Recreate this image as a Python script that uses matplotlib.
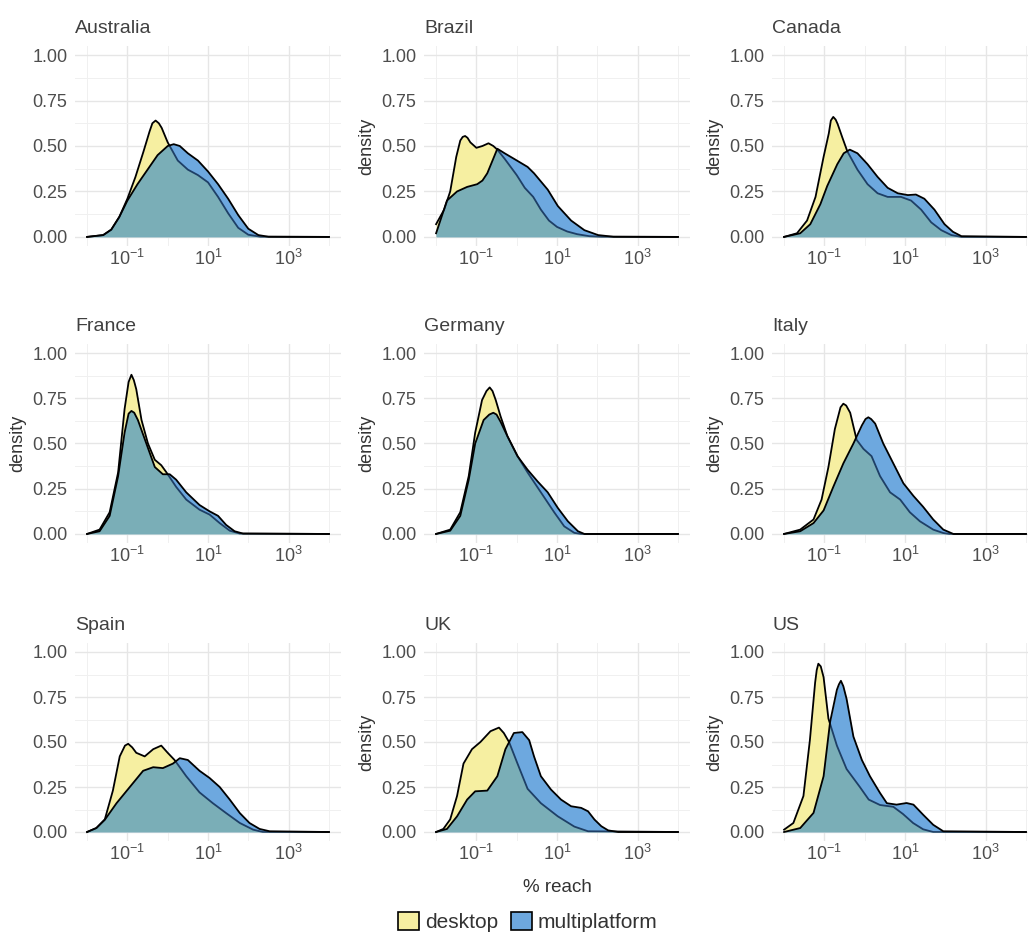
"""
Density of % reach, desktop vs multiplatform, one panel per country.
Output: out.png
"""
import numpy as np
import matplotlib
matplotlib.use("Agg")
import matplotlib.pyplot as plt
from matplotlib.patches import Patch
from matplotlib.ticker import FixedLocator, NullFormatter

plt.rcParams["font.family"] = ["Liberation Sans", "DejaVu Sans"]
plt.rcParams["mathtext.fontset"] = "custom"
plt.rcParams["mathtext.rm"] = "Liberation Sans"
plt.rcParams["mathtext.it"] = "Liberation Sans:italic"

# curves: x is log10(% reach), y is density
australia_desktop_x = [-2, -1.6, -1.4, -1.2, -1.0, -0.8, -0.6, -0.45, -0.38, -0.3, -0.22, -0.15, 0, 0.25, 0.5, 0.75, 1.0, 1.25, 1.5, 1.75, 2.0, 2.3, 4]
australia_desktop_y = [0, 0.01, 0.04, 0.11, 0.21, 0.33, 0.47, 0.58, 0.625, 0.64, 0.625, 0.6, 0.52, 0.42, 0.37, 0.34, 0.3, 0.22, 0.13, 0.05, 0.012, 0.001, 0]
australia_multi_x = [-2, -1.6, -1.4, -1.2, -1.0, -0.75, -0.5, -0.25, 0, 0.15, 0.3, 0.5, 0.75, 1, 1.25, 1.5, 1.75, 2, 2.25, 2.5, 4]
australia_multi_y = [0, 0.01, 0.04, 0.11, 0.2, 0.29, 0.37, 0.45, 0.5, 0.51, 0.5, 0.46, 0.42, 0.36, 0.29, 0.21, 0.12, 0.045, 0.01, 0.001, 0]

brazil_desktop_x = [-2, -1.8, -1.65, -1.5, -1.4, -1.34, -1.28, -1.22, -1.15, -1.0, -0.85, -0.7, -0.58, -0.48, -0.3, 0, 0.2, 0.41, 0.6, 0.8, 1.0, 1.25, 1.5, 1.8, 2.1, 4]
brazil_desktop_y = [0.07, 0.15, 0.25, 0.44, 0.53, 0.55, 0.555, 0.545, 0.52, 0.49, 0.5, 0.515, 0.5, 0.48, 0.43, 0.34, 0.27, 0.22, 0.15, 0.09, 0.055, 0.03, 0.015, 0.004, 0.001, 0]
brazil_multi_x = [-2, -1.85, -1.73, -1.48, -1.23, -0.98, -0.85, -0.73, -0.6, -0.48, -0.3, -0.07, 0.27, 0.43, 0.77, 1.02, 1.35, 1.68, 2.02, 2.4, 4]
brazil_multi_y = [0.02, 0.12, 0.2, 0.25, 0.275, 0.29, 0.31, 0.35, 0.42, 0.485, 0.46, 0.43, 0.385, 0.35, 0.26, 0.17, 0.09, 0.037, 0.01, 0.001, 0]

canada_desktop_x = [-2, -1.68, -1.43, -1.22, -1.02, -0.89, -0.84, -0.78, -0.72, -0.67, -0.56, -0.43, -0.18, 0.07, 0.32, 0.57, 0.9, 1.15, 1.4, 1.65, 1.9, 2.15, 2.4, 4]
canada_desktop_y = [0, 0.02, 0.09, 0.22, 0.44, 0.57, 0.64, 0.66, 0.645, 0.62, 0.55, 0.47, 0.37, 0.29, 0.24, 0.22, 0.22, 0.2, 0.15, 0.08, 0.037, 0.01, 0, 0]
canada_multi_x = [-2, -1.6, -1.35, -1.1, -0.93, -0.68, -0.52, -0.37, -0.18, 0.07, 0.32, 0.57, 0.82, 1.07, 1.27, 1.48, 1.73, 1.98, 2.19, 2.4, 4]
canada_multi_y = [0, 0.02, 0.07, 0.18, 0.28, 0.4, 0.46, 0.48, 0.46, 0.4, 0.33, 0.27, 0.24, 0.23, 0.233, 0.21, 0.15, 0.07, 0.028, 0.004, 0]

france_desktop_x = [-2, -1.69, -1.44, -1.23, -1.07, -0.97, -0.9, -0.84, -0.78, -0.65, -0.49, -0.32, -0.16, -0.03, 0.21, 0.46, 0.79, 1.04, 1.29, 1.54, 1.79, 4]
france_desktop_y = [0, 0.024, 0.12, 0.34, 0.69, 0.84, 0.88, 0.85, 0.8, 0.63, 0.5, 0.41, 0.38, 0.34, 0.26, 0.19, 0.134, 0.107, 0.06, 0.018, 0.002, 0]
france_multi_x = [-2, -1.69, -1.44, -1.23, -1.07, -0.97, -0.9, -0.83, -0.74, -0.53, -0.32, -0.12, 0.05, 0.21, 0.46, 0.79, 1.04, 1.25, 1.45, 1.66, 1.87, 4]
france_multi_y = [0, 0.015, 0.1, 0.32, 0.56, 0.665, 0.68, 0.67, 0.63, 0.5, 0.37, 0.33, 0.33, 0.3, 0.23, 0.16, 0.125, 0.1, 0.05, 0.015, 0.002, 0]

germany_desktop_x = [-2, -1.65, -1.4, -1.19, -1.03, -0.86, -0.75, -0.67, -0.6, -0.52, -0.4, -0.23, 0.02, 0.27, 0.6, 0.93, 1.18, 1.43, 1.6, 4]
germany_desktop_y = [0, 0.024, 0.12, 0.32, 0.56, 0.74, 0.79, 0.81, 0.79, 0.74, 0.65, 0.54, 0.43, 0.34, 0.23, 0.12, 0.042, 0.006, 0, 0]
germany_multi_x = [-2, -1.65, -1.4, -1.19, -1.03, -0.82, -0.68, -0.58, -0.5, -0.4, -0.23, 0.02, 0.27, 0.52, 0.77, 1.02, 1.27, 1.52, 1.68, 4]
germany_multi_y = [0, 0.018, 0.1, 0.3, 0.5, 0.63, 0.66, 0.67, 0.66, 0.62, 0.54, 0.43, 0.355, 0.29, 0.23, 0.144, 0.07, 0.015, 0, 0]

italy_desktop_x = [-2, -1.6, -1.27, -1.07, -0.9, -0.74, -0.6, -0.53, -0.46, -0.36, -0.2, -0.03, 0.17, 0.38, 0.63, 0.88, 1.12, 1.37, 1.7, 1.95, 2.1, 4]
italy_desktop_y = [0, 0.024, 0.08, 0.19, 0.37, 0.58, 0.7, 0.72, 0.71, 0.67, 0.52, 0.47, 0.43, 0.32, 0.23, 0.19, 0.12, 0.07, 0.024, 0.005, 0, 0]
italy_multi_x = [-2, -1.6, -1.27, -1.02, -0.78, -0.53, -0.28, -0.07, 0.02, 0.09, 0.16, 0.26, 0.46, 0.71, 0.96, 1.21, 1.45, 1.7, 1.95, 2.2, 4]
italy_multi_y = [0, 0.015, 0.06, 0.13, 0.26, 0.39, 0.5, 0.6, 0.635, 0.645, 0.635, 0.61, 0.5, 0.39, 0.28, 0.21, 0.15, 0.08, 0.024, 0, 0]

spain_desktop_x = [-2, -1.77, -1.56, -1.36, -1.19, -1.06, -0.98, -0.88, -0.78, -0.57, -0.36, -0.16, 0.0, 0.17, 0.46, 0.79, 1.12, 1.45, 1.79, 2.12, 2.36, 4]
spain_desktop_y = [0, 0.022, 0.07, 0.23, 0.42, 0.48, 0.49, 0.47, 0.44, 0.42, 0.46, 0.48, 0.44, 0.4, 0.31, 0.22, 0.16, 0.105, 0.05, 0.013, 0, 0]
spain_multi_x = [-2, -1.77, -1.56, -1.27, -0.94, -0.61, -0.36, -0.12, 0.13, 0.3, 0.5, 0.79, 1.04, 1.29, 1.54, 1.79, 2.03, 2.28, 2.53, 4]
spain_multi_y = [0, 0.022, 0.068, 0.16, 0.25, 0.34, 0.36, 0.355, 0.38, 0.41, 0.4, 0.34, 0.3, 0.25, 0.18, 0.105, 0.05, 0.017, 0.004, 0]

uk_desktop_x = [-2, -1.82, -1.65, -1.48, -1.32, -1.11, -0.9, -0.65, -0.44, -0.32, -0.19, 0.02, 0.27, 0.6, 1.02, 1.43, 1.77, 4]
uk_desktop_y = [0, 0.017, 0.07, 0.2, 0.38, 0.46, 0.5, 0.56, 0.58, 0.55, 0.5, 0.38, 0.24, 0.16, 0.087, 0.03, 0.004, 0]
uk_multi_x = [-2, -1.73, -1.48, -1.23, -1.03, -0.73, -0.48, -0.28, -0.07, 0.14, 0.31, 0.43, 0.6, 0.85, 1.1, 1.35, 1.6, 1.77, 1.93, 2.1, 2.27, 2.52, 4]
uk_multi_y = [0, 0.017, 0.087, 0.18, 0.226, 0.23, 0.31, 0.46, 0.55, 0.555, 0.51, 0.42, 0.31, 0.236, 0.18, 0.143, 0.134, 0.115, 0.069, 0.032, 0.009, 0, 0]

us_desktop_x = [-2, -1.77, -1.52, -1.36, -1.23, -1.19, -1.15, -1.09, -1.02, -0.9, -0.69, -0.45, -0.12, 0.1, 0.38, 0.71, 0.95, 1.2, 1.45, 1.7, 4]
us_desktop_y = [0.013, 0.05, 0.2, 0.51, 0.83, 0.9, 0.935, 0.92, 0.86, 0.63, 0.48, 0.35, 0.25, 0.18, 0.15, 0.14, 0.1, 0.05, 0.015, 0, 0]
us_multi_x = [-2, -1.6, -1.27, -1.02, -0.86, -0.69, -0.64, -0.59, -0.53, -0.45, -0.28, -0.07, 0.13, 0.38, 0.55, 0.79, 1.04, 1.21, 1.45, 1.7, 1.95, 4]
us_multi_y = [0, 0.022, 0.106, 0.31, 0.61, 0.79, 0.82, 0.84, 0.81, 0.74, 0.53, 0.4, 0.31, 0.217, 0.16, 0.152, 0.161, 0.152, 0.096, 0.04, 0.004, 0]

COUNTRIES = ["Australia", "Brazil", "Canada", "France", "Germany", "Italy", "Spain", "UK", "US"]
DESKTOP = [
    (australia_desktop_x, australia_desktop_y), (brazil_desktop_x, brazil_desktop_y),
    (canada_desktop_x, canada_desktop_y), (france_desktop_x, france_desktop_y),
    (germany_desktop_x, germany_desktop_y), (italy_desktop_x, italy_desktop_y),
    (spain_desktop_x, spain_desktop_y), (uk_desktop_x, uk_desktop_y), (us_desktop_x, us_desktop_y),
]
MULTI = [
    (australia_multi_x, australia_multi_y), (brazil_multi_x, brazil_multi_y),
    (canada_multi_x, canada_multi_y), (france_multi_x, france_multi_y),
    (germany_multi_x, germany_multi_y), (italy_multi_x, italy_multi_y),
    (spain_multi_x, spain_multi_y), (uk_multi_x, uk_multi_y), (us_multi_x, us_multi_y),
]
# panels that carry the "density" label
YLABEL_ON = {"Brazil", "Canada", "France", "Germany", "Italy", "UK", "US"}

YELLOW = "#F6EFA1"
BLUE = "#6DA8DF"
TEAL = "#7AAEB7"
NAVY = "#1E3F66"
TEXT = "#4D4D4D"

W, H = 1028, 934
COL_LEFT = [75, 424, 772]
PANEL_W = 266
ROWS = [(46, 246), (344, 543), (643, 841)]


def draw_panel(ax, desk, multi):
    dx, dy = 10 ** np.asarray(desk[0], float), np.asarray(desk[1], float)
    mx, my = 10 ** np.asarray(multi[0], float), np.asarray(multi[1], float)

    ax.fill_between(dx, 0, dy, color=YELLOW, lw=0, zorder=2)
    ax.plot(dx, dy, color="black", lw=1.3, zorder=3)
    m_fill = ax.fill_between(mx, 0, my, color=BLUE, lw=0, zorder=4)
    clip = m_fill.get_paths()[0]

    # overlap of the two densities, and desktop outline seen through the blue
    over = ax.fill_between(dx, 0, dy, color=TEAL, lw=0, zorder=5)
    over.set_clip_path(clip, ax.transData)
    inner, = ax.plot(dx, dy, color=NAVY, lw=1.3, zorder=6)
    inner.set_clip_path(clip, ax.transData)
    ax.plot(mx, my, color="black", lw=1.3, zorder=7)


fig = plt.figure(figsize=(W / 100, H / 100), dpi=100)

for i, country in enumerate(COUNTRIES):
    r, c = divmod(i, 3)
    top, bottom = ROWS[r]
    left = COL_LEFT[c]
    ax = fig.add_axes([left / W, 1 - bottom / H, PANEL_W / W, (bottom - top) / H])

    draw_panel(ax, DESKTOP[i], MULTI[i])

    ax.set_xscale("log")
    ax.set_xlim(10 ** -2.3, 10 ** 4.3)
    ax.set_ylim(-0.05, 1.05)
    ax.xaxis.set_major_locator(FixedLocator([1e-1, 1e1, 1e3]))
    ax.xaxis.set_minor_locator(FixedLocator([1e-2, 1e0, 1e2, 1e4]))
    ax.xaxis.set_minor_formatter(NullFormatter())
    ax.set_xticklabels([r"$10^{-1}$", r"$10^{1}$", r"$10^{3}$"])
    ax.yaxis.set_major_locator(FixedLocator([0, 0.25, 0.5, 0.75, 1.0]))
    ax.yaxis.set_minor_locator(FixedLocator([0.125, 0.375, 0.625, 0.875]))
    ax.set_yticklabels(["0.00", "0.25", "0.50", "0.75", "1.00"])

    ax.grid(True, which="major", color="#E6E6E6", lw=1.0)
    ax.grid(True, which="minor", color="#F0F0F0", lw=0.7)
    ax.set_axisbelow(True)
    for s in ax.spines.values():
        s.set_visible(False)
    ax.tick_params(which="both", length=0)
    ax.tick_params(axis="x", labelsize=13, colors=TEXT, pad=2)
    ax.tick_params(axis="y", labelsize=13, colors=TEXT, pad=5.5)

    ax.set_title(country, loc="left", fontsize=14, color="#404040", pad=9)
    if country in YLABEL_ON:
        ax.set_ylabel("density", fontsize=13, color="#333333")
    if country == "UK":
        ax.set_xlabel("% reach", fontsize=13.5, color="#333333", labelpad=11)

handles = [
    Patch(facecolor=YELLOW, edgecolor="black", lw=1.2, label="desktop"),
    Patch(facecolor=BLUE, edgecolor="black", lw=1.2, label="multiplatform"),
]
leg = fig.legend(handles=handles, loc="center", bbox_to_anchor=(528 / W, 1 - 922 / H),
                 ncol=2, frameon=False, fontsize=15, handlelength=1.0, handleheight=1.0,
                 handletextpad=0.3, columnspacing=0.6)
for t in leg.get_texts():
    t.set_color("#333333")

fig.savefig("out.png", dpi=100)
